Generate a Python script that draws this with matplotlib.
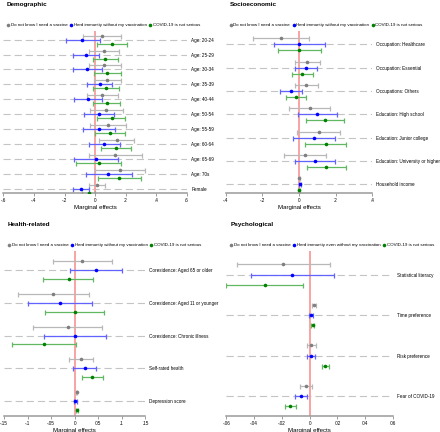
import matplotlib
matplotlib.use("Agg")
import matplotlib.pyplot as plt
from matplotlib.lines import Line2D

plt.rcParams['font.family'] = ['Liberation Sans', 'DejaVu Sans']

# ---- data: (estimate, lower, upper) for each outcome ----
demo_labels = ['Age: 20-24', 'Age: 25-29', 'Age: 30-34', 'Age: 35-39', 'Age: 40-44',
               'Age: 50-54', 'Age: 55-59', 'Age: 60-64', 'Age: 65-69', 'Age: 70s', 'Female']
demo_gray = [0.043, 0.059, 0.061, 0.080, 0.046, 0.072, 0.083, 0.141, 0.130, 0.163, 0.013]
demo_gray_lo = [-0.080, -0.037, -0.041, -0.009, -0.054, -0.033, -0.033, 0.028, -0.041, 0.000, -0.037]
demo_gray_hi = [0.167, 0.154, 0.167, 0.172, 0.146, 0.180, 0.200, 0.254, 0.304, 0.328, 0.067]
demo_blue = [-0.083, -0.057, -0.050, 0.030, -0.046, 0.024, 0.024, 0.061, 0.007, 0.087, -0.093]
demo_blue_lo = [-0.190, -0.146, -0.146, -0.050, -0.137, -0.070, -0.080, -0.041, -0.139, -0.063, -0.143]
demo_blue_hi = [0.033, 0.028, 0.043, 0.111, 0.046, 0.120, 0.128, 0.163, 0.152, 0.241, -0.043]
demo_green = [0.107, 0.067, 0.080, 0.072, 0.076, 0.107, 0.098, 0.137, 0.024, 0.159, -0.043]
demo_green_lo = [0.009, -0.015, -0.009, -0.011, -0.013, 0.013, -0.004, 0.039, -0.122, 0.020, -0.087]
demo_green_hi = [0.207, 0.150, 0.172, 0.154, 0.165, 0.198, 0.198, 0.237, 0.167, 0.302, 0.000]

socio_labels = ['Occupation: Healthcare', 'Occupation: Essential', 'Occupations: Others',
                'Education: High school', 'Education: Junior college',
                'Education: University or higher', 'Household income']
socio_gray = [-0.100, 0.045, 0.040, 0.058, 0.107, 0.033, 0.002]
socio_gray_lo = [-0.253, -0.022, -0.024, -0.053, -0.011, -0.080, -0.002]
socio_gray_hi = [0.053, 0.113, 0.104, 0.171, 0.225, 0.145, 0.006]
socio_blue = [0.000, 0.038, -0.044, 0.100, 0.082, 0.087, 0.005]
socio_blue_lo = [-0.136, -0.022, -0.104, -0.007, -0.035, -0.022, 0.001]
socio_blue_hi = [0.140, 0.100, 0.016, 0.209, 0.198, 0.196, 0.009]
socio_green = [0.002, 0.018, -0.016, 0.142, 0.145, 0.149, 0.000]
socio_green_lo = [-0.116, -0.040, -0.073, 0.036, 0.035, 0.045, -0.004]
socio_green_hi = [0.120, 0.078, 0.040, 0.247, 0.258, 0.256, 0.004]

health_labels = ['Coresidence: Aged 65 or older', 'Coresidence: Aged 11 or younger',
                 'Coresidence: Chronic illness', 'Self-rated health', 'Depression score']
health_gray = [0.016, -0.045, -0.014, 0.013, 0.004]
health_gray_lo = [-0.047, -0.120, -0.088, -0.013, 0.002]
health_gray_hi = [0.080, 0.030, 0.059, 0.040, 0.006]
health_blue = [0.045, -0.031, 0.000, 0.021, 0.001]
health_blue_lo = [-0.010, -0.099, -0.066, -0.004, -0.002]
health_blue_hi = [0.100, 0.037, 0.066, 0.046, 0.004]
health_green = [-0.013, 0.000, -0.065, 0.037, 0.005]
health_green_lo = [-0.067, -0.062, -0.132, 0.015, 0.003]
health_green_hi = [0.040, 0.063, 0.003, 0.060, 0.007]

psych_labels = ['Statistical literacy', 'Time preference', 'Risk preference', 'Fear of COVID-19']
psych_gray = [-0.0190, 0.0030, 0.0012, -0.0029]
psych_gray_lo = [-0.0526, 0.0020, -0.0020, -0.0070]
psych_gray_hi = [0.0146, 0.0043, 0.0046, 0.0020]
psych_blue = [-0.0125, 0.0007, 0.0010, -0.0062]
psych_blue_lo = [-0.0425, -0.0007, -0.0020, -0.0103]
psych_blue_hi = [0.0178, 0.0024, 0.0040, -0.0020]
psych_green = [-0.0320, 0.0022, 0.0113, -0.0139]
psych_green_lo = [-0.0600, 0.0010, 0.0086, -0.0180]
psych_green_hi = [-0.0046, 0.0034, 0.0140, -0.0096]

demo_ticks = [-0.6, -0.4, -0.2, 0, 0.2, 0.4, 0.6]
demo_ticklabels = ['-.6', '-.4', '-.2', '0', '.2', '.4', '.6']
socio_ticks = [-0.4, -0.2, 0, 0.2, 0.4]
socio_ticklabels = ['-.4', '-.2', '0', '.2', '.4']
health_ticks = [-0.15, -0.1, -0.05, 0, 0.05, 0.1, 0.15]
health_ticklabels = ['-.15', '-.1', '-.05', '0', '.05', '.1', '.15']
psych_ticks = [-0.06, -0.04, -0.02, 0, 0.02, 0.04, 0.06]
psych_ticklabels = ['-.06', '-.04', '-.02', '0', '.02', '.04', '.06']

legend_gray = 'Do not know I need a vaccine'
legend_blue = 'Herd immunity without my vaccination'
legend_blue_psych = 'Herd immunity even without my vaccination'
legend_green = 'COVID-19 is not serious'

W, H = 440, 432


def px_axes(fig, x0, x1, y0, y1):
    # axes from pixel box (top-left origin)
    return fig.add_axes([x0 / W, 1 - y1 / H, (x1 - x0) / W, (y1 - y0) / H])


def panel(fig, box, title, labels, series, ticks, ticklabels, off, ylim, blue_label, title_xy):
    ax = px_axes(fig, *box)
    n = len(labels)
    rows = list(range(n))
    colors = [('#7f7f7f', '#b8b8b8'), ('#0000ff', '#6262ff'), ('#008000', '#62b862')]
    offsets = [-off[0], 0, off[1]]
    for ri in rows:
        ax.axhline(ri, color='#c4c4c4', lw=0.8, dashes=(6.5, 3.5), zorder=0)
    ax.axvline(0, color='#f7a3a3', lw=1.4, zorder=1)
    for (est, lo, hi), (dc, lc), dy in zip(series, colors, offsets):
        ys = [r + dy for r in rows]
        err = [[e - l for e, l in zip(est, lo)], [h - e for e, h in zip(est, hi)]]
        ax.errorbar(est, ys, xerr=err, fmt='none', ecolor=lc, elinewidth=0.9,
                    capsize=1.8, capthick=0.9, zorder=2)
        ax.plot(est, ys, 'o', color=dc, ms=2.6, mew=0, zorder=3)
    ax.set_xlim(ticks[0], ticks[-1])
    ax.set_ylim(*ylim)
    ax.set_xticks(ticks)
    ax.set_xticklabels(ticklabels)
    ax.set_yticks(rows)
    ax.set_yticklabels(labels)
    ax.yaxis.tick_right()
    ax.tick_params(axis='y', length=0, labelsize=3.3, pad=3)
    ax.tick_params(axis='x', length=2, width=0.6, color='#8c8c8c', labelsize=3.3, pad=1.5)
    for s in ['top', 'left', 'right']:
        ax.spines[s].set_visible(False)
    ax.spines['bottom'].set_color('#9a9a9a')
    ax.spines['bottom'].set_linewidth(1.1)
    ax.set_xlabel('Marginal effects', fontsize=4.4, labelpad=1.2)
    fig.text(title_xy[0] / W, 1 - title_xy[1] / H, title, fontsize=4.6, fontweight='bold',
             va='top', ha='left')
    handles = [Line2D([], [], ls='none', marker='o', color=c[0], ms=2.6, mew=0) for c in colors]
    ax.legend(handles, [legend_gray, blue_label, legend_green], ncol=3, frameon=False,
              loc='lower left', bbox_to_anchor=(0.0, 1.0), fontsize=3.2, handlelength=0.6,
              handletextpad=0.3, columnspacing=0.5, borderaxespad=0.6, borderpad=0.2)
    return ax


fig = plt.figure(figsize=(4.4, 4.32), dpi=100)

panel(fig, (3.3, 187, 30.7, 193.3), 'Demographic', demo_labels,
      [(demo_gray, demo_gray_lo, demo_gray_hi), (demo_blue, demo_blue_lo, demo_blue_hi),
       (demo_green, demo_green_lo, demo_green_hi)],
      demo_ticks, demo_ticklabels, (0.27, 0.27), (10.31, -0.6), legend_blue, (7, 2))

panel(fig, (225.7, 372.3, 31, 193.3), 'Socioeconomic', socio_labels,
      [(socio_gray, socio_gray_lo, socio_gray_hi), (socio_blue, socio_blue_lo, socio_blue_hi),
       (socio_green, socio_green_lo, socio_green_hi)],
      socio_ticks, socio_ticklabels, (0.26, 0.26), (6.39, -0.57), legend_blue, (230, 2))

panel(fig, (4, 145.3, 251, 416), 'Health-related', health_labels,
      [(health_gray, health_gray_lo, health_gray_hi), (health_blue, health_blue_lo, health_blue_hi),
       (health_green, health_green_lo, health_green_hi)],
      health_ticks, health_ticklabels, (0.27, 0.27), (4.46, -0.59), legend_blue, (8, 222))

panel(fig, (226.3, 393, 251, 416), 'Psychological', psych_labels,
      [(psych_gray, psych_gray_lo, psych_gray_hi), (psych_blue, psych_blue_lo, psych_blue_hi),
       (psych_green, psych_green_lo, psych_green_hi)],
      psych_ticks, psych_ticklabels, (0.26, 0.25), (3.49, -0.585), legend_blue_psych, (231, 222))

fig.savefig('out.png', dpi=100, facecolor='white')
